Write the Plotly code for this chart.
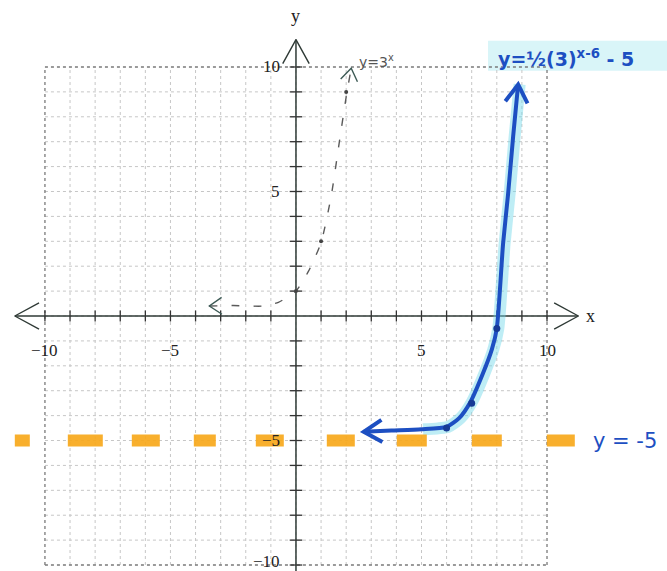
import math
import plotly.graph_objects as go

# Graph-paper grid and axis labels
grid_vals = list(range(-10, 11))
x_tick_vals = [-10, -5, 5, 10]
x_tick_text = ["−10", "−5", "5", "10"]
y_tick_vals = [10, 5, -5, -10]
y_tick_text = ["10", "5", "−5", "−10"]

# Pencil sketch of the parent function y = 3^x
pencil_x = [-3.45, -2.5, -1.3, -0.7, 0.0, 0.5, 1.0, 1.4, 1.7, 2.0, 2.2]
pencil_y = [0.4, 0.42, 0.4, 0.55, 1.0, 1.8, 2.95, 4.8, 6.8, 8.8, 9.95]
pencil_dots_x = [0, 1, 2]
pencil_dots_y = [1, 3, 9]

# Transformed curve y = 1/2 (3)^(x-6) - 5, drawn in blue marker
blue_x = [2.7, 3.8, 5.0, 6.0, 6.5, 6.95, 7.45, 7.8, 8.0, 8.25, 8.45, 8.65, 8.85]
blue_y = [-4.65, -4.6, -4.55, -4.45, -4.1, -3.45, -2.3, -1.35, -0.5, 2.9, 4.9, 7.2, 9.3]
blue_dots_x = [6, 7, 8]
blue_dots_y = [-4.5, -3.5, -0.5]

# Horizontal asymptote y = -5
asym_x = [-11.2, 11.12]
asym_y = [-5, -5]

X_LO, X_HI = -11.79, 14.78
Y_LO, Y_HI = -10.24, 12.69

BLUE = "#1d4fc2"
ORANGE = "rgba(247,168,27,0.92)"
CYAN = "rgba(110,215,232,0.45)"
SERIF = "Liberation Serif, Times New Roman, serif"
# uneven hand-drawn highlighter strokes along the asymptote
ORANGE_DASH = "15px,38px,35px,29px,28px,34px,22px,40px,28px,43px,28px,42px,30px,45px,30px,45px,28px,200px"


def segs(pairs):
    xs, ys = [], []
    for (x0, y0), (x1, y1) in pairs:
        xs += [x0, x1, None]
        ys += [y0, y1, None]
    return xs, ys


def wings(tip, back, length, spread):
    """Open hand-drawn arrowhead: two strokes leaving the tip toward 'back'."""
    dx, dy = back[0] - tip[0], back[1] - tip[1]
    ang = math.atan2(dy, dx)
    pts = []
    for s in (-spread, spread):
        a = ang + s
        pts.append((tip[0] + length * math.cos(a), tip[1] + length * math.sin(a)))
    return [pts[0][0], tip[0], pts[1][0]], [pts[0][1], tip[1], pts[1][1]]


fig = go.Figure()

# grid lines
lo, hi = grid_vals[0], grid_vals[-1]
inner = [v for v in grid_vals if v not in (lo, hi)]
gx, gy = segs([((v, lo), (v, hi)) for v in inner] + [((lo, v), (hi, v)) for v in inner])
fig.add_trace(go.Scatter(x=gx, y=gy, mode="lines",
                         line=dict(color="#c6c6c6", width=1, dash="dot"), hoverinfo="skip"))
bx, by = segs([((lo, lo), (lo, hi)), ((hi, lo), (hi, hi)),
               ((lo, lo), (hi, lo)), ((lo, hi), (hi, hi))])
fig.add_trace(go.Scatter(x=bx, y=by, mode="lines",
                         line=dict(color="#7a7a7a", width=1.3, dash="dot"), hoverinfo="skip"))

# axes
ax_x_end = (-11.2, 11.25)
ax_y_end = (Y_LO, 11.1)
axx, axy = segs([((ax_x_end[0], 0), (ax_x_end[1], 0)), ((0, ax_y_end[0]), (0, ax_y_end[1]))])
fig.add_trace(go.Scatter(x=axx, y=axy, mode="lines",
                         line=dict(color="#2f3a36", width=1.5), hoverinfo="skip"))
# tick crosses on the axes
tk = [v for v in grid_vals if v != 0]
tx, ty = segs([((v, -0.22), (v, 0.22)) for v in tk] + [((-0.25, v), (0.25, v)) for v in tk])
fig.add_trace(go.Scatter(x=tx, y=ty, mode="lines",
                         line=dict(color="#333333", width=1.3), hoverinfo="skip"))
# open arrowheads on the axes
for tip, back in [((ax_x_end[0], 0), (0, 0)), ((ax_x_end[1], 0), (0, 0)),
                  ((0, ax_y_end[1]), (0, 0))]:
    wx, wy = wings(tip, back, 1.1, 0.5)
    fig.add_trace(go.Scatter(x=wx, y=wy, mode="lines",
                             line=dict(color="#2f3a36", width=1.4), hoverinfo="skip"))

# cyan highlighter behind the blue curve and its label
fig.add_shape(type="rect", x0=7.65, x1=X_HI, y0=9.85, y1=11.05,
              fillcolor="rgba(170,232,240,0.45)", line=dict(width=0), layer="below")
fig.add_trace(go.Scatter(x=[x + 0.06 for x in blue_x[2:]], y=blue_y[2:], mode="lines",
                         line=dict(color=CYAN, width=12, shape="spline", smoothing=0.6),
                         hoverinfo="skip"))

# orange highlighter asymptote
fig.add_trace(go.Scatter(x=asym_x, y=asym_y, mode="lines",
                         line=dict(color=ORANGE, width=12, dash=ORANGE_DASH), hoverinfo="skip"))

# pencil parent function
fig.add_trace(go.Scatter(x=pencil_x, y=pencil_y, mode="lines",
                         line=dict(color="#5a5a5a", width=1.4, dash="8px,14px",
                                   shape="spline", smoothing=0.6), hoverinfo="skip"))
fig.add_trace(go.Scatter(x=pencil_dots_x, y=pencil_dots_y, mode="markers",
                         marker=dict(color="#444444", size=4), hoverinfo="skip"))
for tip, back in [((pencil_x[0], pencil_y[0]), (pencil_x[1], pencil_y[1])),
                  ((pencil_x[-1], pencil_y[-1]), (pencil_x[-2], pencil_y[-2]))]:
    wx, wy = wings(tip, back, 0.6, 0.6)
    fig.add_trace(go.Scatter(x=wx, y=wy, mode="lines",
                             line=dict(color="#3d5a55", width=1.4), hoverinfo="skip"))

# blue transformed function
fig.add_trace(go.Scatter(x=blue_x, y=blue_y, mode="lines",
                         line=dict(color=BLUE, width=4, shape="spline", smoothing=0.6),
                         hoverinfo="skip"))
fig.add_trace(go.Scatter(x=blue_dots_x, y=blue_dots_y, mode="markers",
                         marker=dict(color="#163a96", size=7), hoverinfo="skip"))
for tip, back in [((blue_x[0], blue_y[0]), (blue_x[1], blue_y[1])),
                  ((blue_x[-1], blue_y[-1]), (blue_x[-2], blue_y[-2]))]:
    wx, wy = wings(tip, back, 0.85, 0.55)
    fig.add_trace(go.Scatter(x=wx, y=wy, mode="lines",
                             line=dict(color=BLUE, width=4), hoverinfo="skip"))

ann = []
for v, t in zip(x_tick_vals, x_tick_text):
    ann.append(dict(x=v, y=-1.37, text=t, showarrow=False,
                    font=dict(family=SERIF, size=17, color="#222")))
for v, t in zip(y_tick_vals, y_tick_text):
    ann.append(dict(x=-0.55, y=max(v, -9.85), text=t, showarrow=False, xanchor="right",
                    font=dict(family=SERIF, size=17, color="#222")))
ann.append(dict(x=0, y=12.05, text="y", showarrow=False,
                font=dict(family=SERIF, size=18, color="#222")))
ann.append(dict(x=11.75, y=0, text="x", showarrow=False,
                font=dict(family=SERIF, size=18, color="#222")))
ann.append(dict(x=2.45, y=10.25, text="y=3<sup>x</sup>", showarrow=False, xanchor="left",
                font=dict(family="DejaVu Sans", size=14, color="#555")))
ann.append(dict(x=7.95, y=10.35, text="<b>y=½(3)<sup>x-6</sup> - 5</b>", showarrow=False,
                xanchor="left", font=dict(family="DejaVu Sans", size=19, color=BLUE)))
ann.append(dict(x=13.1, y=-5, text="y = -5", showarrow=False,
                font=dict(family="DejaVu Sans", size=21, color=BLUE)))

fig.update_layout(
    width=667, height=571, margin=dict(l=0, r=0, t=0, b=0),
    paper_bgcolor="white", plot_bgcolor="white", showlegend=False,
    xaxis=dict(range=[X_LO, X_HI], visible=False, fixedrange=True),
    yaxis=dict(range=[Y_LO, Y_HI], visible=False, fixedrange=True),
    annotations=ann,
)

fig.write_html("out.html")
